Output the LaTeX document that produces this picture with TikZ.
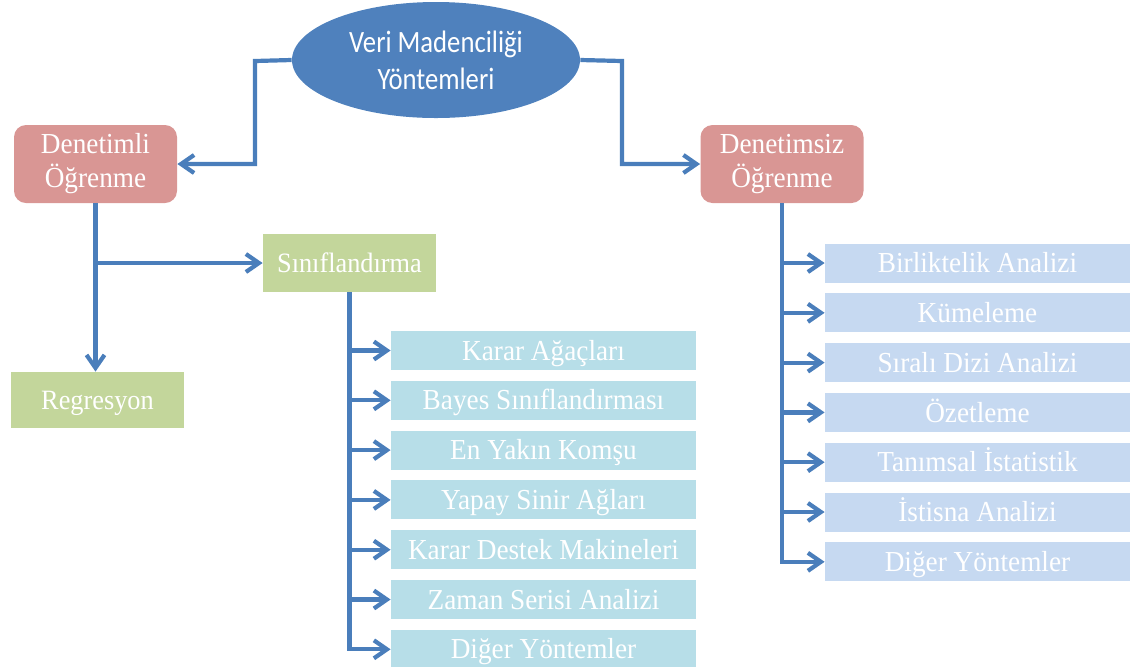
\documentclass[tikz,border=0pt]{standalone}
\usepackage{fontspec}
\setmainfont[FakeStretch=0.94]{Liberation Serif}
\newfontfamily\ovalfont[FakeStretch=0.86]{Carlito}
\usetikzlibrary{arrows.meta,positioning,shapes.geometric}

\definecolor{ovalblue}{HTML}{4F81BD}
\definecolor{linkblue}{HTML}{4A7EBB}
\definecolor{pinkbox}{HTML}{D99694}
\definecolor{greenbox}{HTML}{C3D69B}
\definecolor{cyanbox}{HTML}{B7DEE8}
\definecolor{palebox}{HTML}{C6D9F1}

\begin{document}
\begin{tikzpicture}[
  x=0.5pt, y=-0.5pt,
  node distance=5pt and 0pt,
  oval/.style={ellipse, fill=ovalblue, text=white, minimum width=144pt, minimum height=58pt, inner sep=0pt, align=center, font=\ovalfont\fontsize{15.5}{18.5}\selectfont},
  learn/.style={rectangle, rounded corners=6pt, fill=pinkbox, text=white, minimum width=81.5pt, minimum height=39pt, inner sep=0pt, align=center, font=\fontsize{14.5}{17}\selectfont},
  kind/.style={rectangle, fill=greenbox, text=white, minimum width=86.5pt, minimum height=29pt, inner sep=0pt, text height=9.3pt, text depth=0pt, font=\fontsize{14}{17}\selectfont},
  method/.style={rectangle, fill=#1, text=white, minimum width=152.5pt, minimum height=19.5pt, inner sep=0pt, text height=9.6pt, text depth=0pt, font=\fontsize{14.5}{17}\selectfont},
  link/.style={-{Straight Barb[length=6.5pt,width=9pt]}, line width=2.1pt, draw=linkblue}
]
\useasboundingbox (0,0) rectangle (1130,666);

% root and the two kinds of learning
\node[oval] (veri) at (436,60) {Veri Madenciliği\\Yöntemleri};
\node[learn] (dli) at (95.5,164) {Denetimli\\Öğrenme};
\node[learn] (dsiz) at (782,164) {Denetimsiz\\Öğrenme};
\coordinate (lk) at (255,61);
\coordinate (rk) at (622,61);
\draw[link] (veri.west) -- (lk) |- (dli.east);
\draw[link] (veri.east) -- (rk) |- (dsiz.west);

% supervised side
\node[kind] (sinif) at (349.5,263) {Sınıflandırma};
\node[kind, minimum height=28pt] (regr) at (97.5,400) {Regresyon};
\draw[link] (dli.south) -- (dli.south |- regr.north);
\draw[link] (dli.south |- sinif.west) -- (sinif.west);

\node[method=cyanbox] (k1) at (543.5,350.5) {Karar Ağaçları};
\node[method=cyanbox, below=of k1] (k2) {Bayes Sınıflandırması};
\node[method=cyanbox, below=of k2] (k3) {En Yakın Komşu};
\node[method=cyanbox, below=of k3] (k4) {Yapay Sinir Ağları};
\node[method=cyanbox, below=of k4] (k5) {Karar Destek Makineleri};
\node[method=cyanbox, below=of k5] (k6) {Zaman Serisi Analizi};
\node[method=cyanbox, below=of k6] (k7) {Diğer Yöntemler};
\draw[link] (sinif.south) |- (k7.west);
\foreach \k in {k1,k2,k3,k4,k5,k6}
  \draw[link] (sinif.south |- \k.west) -- (\k.west);

% unsupervised side
\node[method=palebox] (u1) at (977.5,263) {Birliktelik Analizi};
\node[method=palebox, below=of u1] (u2) {Kümeleme};
\node[method=palebox, below=of u2] (u3) {Sıralı Dizi Analizi};
\node[method=palebox, below=of u3] (u4) {Özetleme};
\node[method=palebox, below=of u4] (u5) {Tanımsal İstatistik};
\node[method=palebox, below=of u5] (u6) {İstisna Analizi};
\node[method=palebox, below=of u6] (u7) {Diğer Yöntemler};
\draw[link] (dsiz.south) |- (u7.west);
\foreach \u in {u1,u2,u3,u4,u5,u6}
  \draw[link] (dsiz.south |- \u.west) -- (\u.west);
\end{tikzpicture}
\end{document}
